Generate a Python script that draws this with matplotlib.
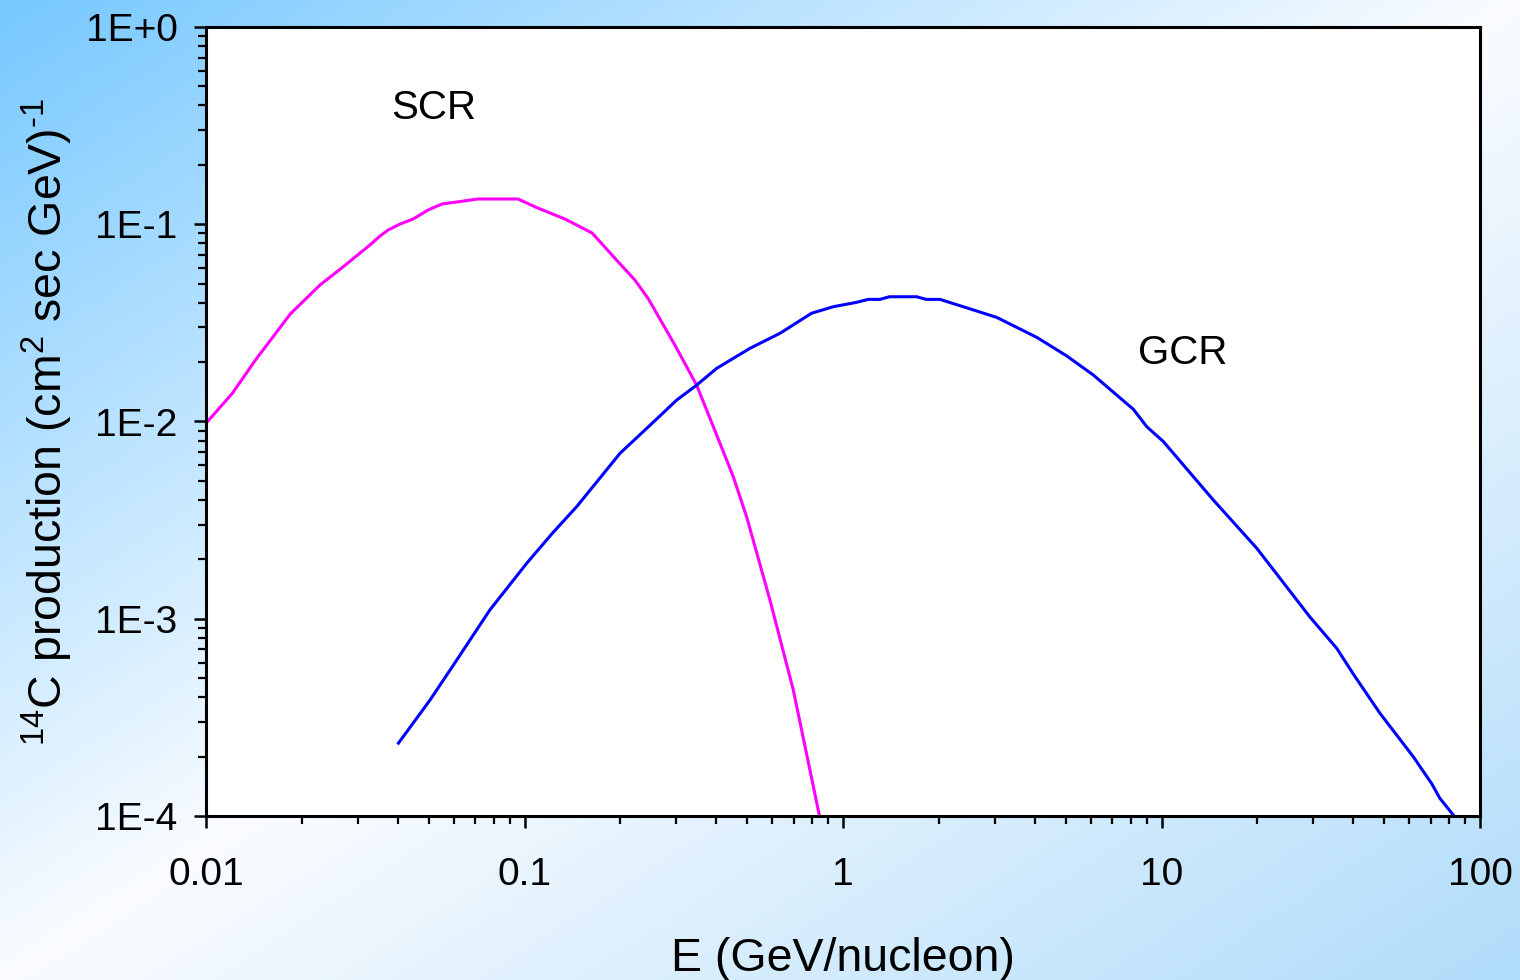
import numpy as np
import matplotlib
matplotlib.use("Agg")
import matplotlib.pyplot as plt
from matplotlib.ticker import FixedLocator, FixedFormatter, LogLocator, NullFormatter

plt.rcParams['font.family'] = ['Liberation Sans', 'DejaVu Sans']
plt.rcParams['mathtext.fontset'] = 'custom'
plt.rcParams['mathtext.rm'] = 'Liberation Sans'
plt.rcParams['mathtext.it'] = 'Liberation Sans:italic'
plt.rcParams['mathtext.default'] = 'regular'

# ---- data ----
scr_e = [0.01, 0.0121, 0.0143, 0.0184, 0.0228, 0.0269, 0.0327, 0.0352, 0.0373, 0.0407,
         0.0447, 0.0498, 0.0551, 0.0614, 0.0714, 0.0954, 0.110, 0.134, 0.163, 0.197,
         0.222, 0.245, 0.297, 0.347, 0.401, 0.452, 0.499, 0.590, 0.698, 0.843]
scr_p = [0.0098, 0.0139, 0.0205, 0.0351, 0.0492, 0.0607, 0.0785, 0.0872, 0.0935, 0.1003,
         0.1063, 0.1181, 0.1267, 0.1297, 0.1343, 0.1343, 0.1209, 0.1063, 0.0903, 0.0644,
         0.0522, 0.0418, 0.0243, 0.0153, 0.00855, 0.00527, 0.00326, 0.00124, 0.000436, 0.0001006]

gcr_e = [0.0402, 0.0505, 0.0613, 0.0779, 0.1016, 0.122, 0.1458, 0.1995, 0.25, 0.3006, 0.3473, 0.4013,
         0.5105, 0.634, 0.797, 0.933, 1.104, 1.20, 1.306, 1.398, 1.704, 1.822,
         2.016, 2.445, 3.04, 4.06, 5.04, 6.11, 8.16, 8.99, 10.13, 14.54,
         19.9, 29.25, 35.5, 40.0, 48.5, 61.7, 70.5, 74.8, 82.5]
gcr_p = [0.000234, 0.000387, 0.000618, 0.00111, 0.00191, 0.0027, 0.0037, 0.0069, 0.0097, 0.01285, 0.0153, 0.0186,
         0.0235, 0.028, 0.0354, 0.0382, 0.0402, 0.0416, 0.0416, 0.0429, 0.0429, 0.0416,
         0.0416, 0.0377, 0.0337, 0.0267, 0.0215, 0.0172, 0.01153, 0.00941, 0.00792, 0.0040,
         0.00228, 0.00102, 0.000708, 0.000525, 0.000332, 0.0002, 0.000146, 0.000123, 0.000101]

x_ticks = [0.01, 0.1, 1, 10, 100]
x_ticklabels = ['0.01', '0.1', '1', '10', '100']
y_ticks = [1e-4, 1e-3, 1e-2, 1e-1, 1e0]
y_ticklabels = ['1E-4', '1E-3', '1E-2', '1E-1', '1E+0']

# ---- figure ----
W, H = 1520, 980
fig = plt.figure(figsize=(W / 100, H / 100), dpi=100)

# background gradient
bg = fig.add_axes([0, 0, 1, 1])
yy, xx = np.mgrid[0:H:2, 0:W:2]
t = (xx / W + yy / H) / 2.0
c1 = np.array([118, 200, 255]) / 255.0   # top-left
cw = np.array([250, 252, 255]) / 255.0   # middle
c2 = np.array([176, 220, 250]) / 255.0   # bottom-right
a = (t / 0.5)[..., None]
b = ((t - 0.5) / 0.5)[..., None]
img = np.where((t < 0.5)[..., None], c1 * (1 - a) + cw * a, cw * (1 - b) + c2 * b)
bg.imshow(img, aspect='auto', extent=[0, 1, 0, 1], origin='upper')
bg.set_axis_off()

ax = fig.add_axes([206 / W, 1 - 816 / H, (1480 - 206) / W, (816 - 27) / H])
ax.set_facecolor('white')
ax.plot(scr_e, scr_p, color='#FF00FF', lw=2.2, solid_joinstyle='round')
ax.plot(gcr_e, gcr_p, color='#0000FF', lw=2.2, solid_joinstyle='round')

ax.set_xscale('log')
ax.set_yscale('log')
ax.set_xlim(0.01, 100)
ax.set_ylim(1e-4, 1)

ax.xaxis.set_major_locator(FixedLocator(x_ticks))
ax.xaxis.set_major_formatter(FixedFormatter(x_ticklabels))
ax.yaxis.set_major_locator(FixedLocator(y_ticks))
ax.yaxis.set_major_formatter(FixedFormatter(y_ticklabels))
ax.xaxis.set_minor_locator(LogLocator(base=10, subs=np.arange(2, 10)))
ax.yaxis.set_minor_locator(LogLocator(base=10, subs=np.arange(2, 10)))
ax.xaxis.set_minor_formatter(NullFormatter())
ax.yaxis.set_minor_formatter(NullFormatter())

ax.tick_params(axis='both', which='major', direction='out', length=8.5, width=1.8,
               labelsize=28, colors='black')
ax.tick_params(axis='both', which='minor', direction='out', length=6, width=1.6)
ax.tick_params(axis='x', which='major', pad=21)
ax.tick_params(axis='y', which='major', pad=12)
ax.tick_params(top=False, right=False, which='both')

for s in ax.spines.values():
    s.set_linewidth(2.2)
    s.set_color('black')

ax.set_xlabel('E (GeV/nucleon)', fontsize=33.5, labelpad=32)
ax.set_ylabel('$^{14}$C production (cm$^{2}$ sec GeV)$^{\u20101}$', fontsize=33.5, labelpad=8)

ax.text(0.052, 0.3886, 'SCR', fontsize=29, ha='center', va='center')
ax.text(11.68, 0.02225, 'GCR', fontsize=29, ha='center', va='center')

fig.savefig('out.png', dpi=100)
